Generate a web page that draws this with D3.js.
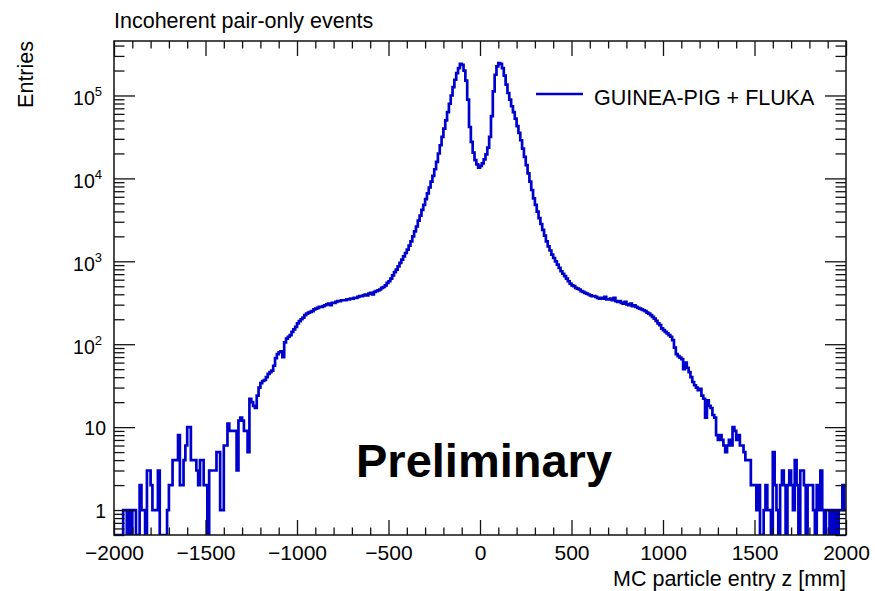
<!DOCTYPE html>
<html><head><meta charset="utf-8">
<script src="https://cdn.jsdelivr.net/npm/d3@7"></script>
<style>
body{margin:0;background:#fff}
svg{display:block}
text{font-family:"Liberation Sans",Arial,Helvetica,sans-serif;fill:#000}
</style>
</head><body>
<svg id="c" width="875" height="591"></svg>
<script>
// ---- data ----
const xRange = [-2000, 2000];
const binWidth = 10;
const counts = [
0,0,0,0,0,1,1,0,1,0,1,1,0,0,2,1,1,0,3,3,
2,1,1,1,3,0,0,0,0,1,2,2,4,4,4,8,2,2,4,6,
10,10,4,4,4,3,2,4,4,2,2,0,3,3,3,3,5,5,1,1,
6,6,11,9,9,9,9,3,12,13,12,9,9,5,22,20,18,17,24,30,
34,36,37,40,44,46,48,55,68,76,80,82,70,105,117,123,129,141,151,162,
178,190,200,209,224,234,240,245,251,263,269,275,282,282,288,295,302,309,295,316,
316,324,331,331,339,339,339,347,347,355,355,363,363,372,380,380,389,398,389,407,
417,398,427,437,447,457,479,490,513,550,575,617,676,741,794,871,955,1047,1148,1259,
1380,1549,1738,1995,2291,2630,3090,3548,4169,4786,5623,6607,7762,9120,10715,12882,15849,19953,25119,31623,
39811,50119,63096,79433,100000,125893,154882,186209,213796,239883,234423,199526,151356,89125,41687,27542,20417,16596,14791,13490,
14125,15136,16982,19498,23442,31623,56234,112202,177828,223872,245471,239883,213796,173780,134896,107152,89125,74131,63096,52481,
42658,35481,28840,22909,18197,14454,11482,9120,7244,5754,4786,3981,3311,2818,2399,2042,1738,1514,1349,1202,
1096,1000,912,832,759,708,661,617,575,537,513,501,479,468,457,437,427,417,407,398,
389,380,380,372,363,355,363,355,372,347,347,355,339,363,331,324,331,316,309,324,
302,295,309,288,295,282,275,269,263,257,251,240,234,224,214,204,191,178,170,155,
148,141,135,129,123,112,91,76,72,69,66,50,60,52,46,40,35,32,30,28,
29,24,22,13,21,18,17,14,13,8,7,8,7,6,5,6,7,6,10,9,
7,8,6,6,5,4,4,4,2,2,2,1,2,0,0,1,2,1,1,0,
5,2,1,0,2,3,2,0,2,3,2,1,4,2,0,3,3,2,0,2,
2,2,1,0,2,1,3,1,0,1,1,0,1,0,1,0,1,1,2,1
];
const xMajorTicks = [-2000,-1500,-1000,-500,0,500,1000,1500,2000];
const xMinorStep = 100;
const yDecadeTicks = [1,10,100,1000,10000,100000];
const yDomain = [0.5, 4.54e5];
const titleText = "Incoherent pair-only events";
const xTitleText = "MC particle entry z [mm]";
const yTitleText = "Entries";
const legendText = "GUINEA-PIG + FLUKA";
const watermarkText = "Preliminary";

// ---- layout ----
const m = {l:114, r:846, t:41, b:535};
const lineColor = "#0000cc";
const svg = d3.select("#c");
const x = d3.scaleLinear().domain(xRange).range([m.l, m.r]);
const y = d3.scaleLog().domain(yDomain).range([m.b, m.t]);

// minor tick values
const xMinor = d3.range(xRange[0], xRange[1] + 1, xMinorStep).filter(v => !xMajorTicks.includes(v));
const yMinor = [];
for (let e = -1; e <= 5; e++) for (let k = 2; k <= 9; k++) {
  const v = k * Math.pow(10, e);
  if (v >= yDomain[0] && v <= yDomain[1]) yMinor.push(v);
}

svg.append("defs").append("clipPath").attr("id","clip")
  .append("rect").attr("x", m.l).attr("y", m.t).attr("width", m.r - m.l).attr("height", m.b - m.t);

// histogram
const pts = counts.map((c, i) => [xRange[0] + i * binWidth, c]);
pts.push([xRange[1], counts[counts.length - 1]]);
const line = d3.line()
  .x(d => x(d[0]))
  .y(d => y(Math.max(d[1], yDomain[0])))
  .curve(d3.curveStepAfter);
svg.append("path").attr("clip-path","url(#clip)")
  .attr("d", line(pts)).attr("fill","none")
  .attr("stroke", lineColor).attr("stroke-width", 2.7).attr("stroke-linejoin","miter");

// axes
const axisStyle = g => {
  g.select(".domain").remove();
  g.selectAll(".tick line").attr("stroke","#111").attr("stroke-width",1.3);
};
const fs = 21;
// bottom
svg.append("g").attr("transform",`translate(0,${m.b})`)
  .call(d3.axisBottom(x).tickValues(xMinor).tickSize(-7.5).tickFormat(""))
  .call(axisStyle);
const xb = svg.append("g").attr("transform",`translate(0,${m.b})`)
  .call(d3.axisBottom(x).tickValues(xMajorTicks).tickSize(-15).tickPadding(10)
    .tickFormat(d => d < 0 ? "\u2212" + Math.abs(d) : String(d)))
  .call(axisStyle);
xb.selectAll("text").attr("font-size", fs).attr("fill","#000")
  .attr("font-family",'"Liberation Sans",Arial,sans-serif');
// top
svg.append("g").attr("transform",`translate(0,${m.t})`)
  .call(d3.axisTop(x).tickValues(xMinor).tickSize(-7.5).tickFormat(""))
  .call(axisStyle);
svg.append("g").attr("transform",`translate(0,${m.t})`)
  .call(d3.axisTop(x).tickValues(xMajorTicks).tickSize(-15).tickFormat(""))
  .call(axisStyle);
// left
svg.append("g").attr("transform",`translate(${m.l},0)`)
  .call(d3.axisLeft(y).tickValues(yMinor).tickSize(-10.5).tickFormat(""))
  .call(axisStyle);
const yl = svg.append("g").attr("transform",`translate(${m.l},0)`)
  .call(d3.axisLeft(y).tickValues(yDecadeTicks).tickSize(-21).tickFormat(""))
  .call(axisStyle);
yl.selectAll(".tick").each(function(d){
  const g = d3.select(this);
  const e = Math.round(Math.log10(d));
  const t = g.append("text").attr("text-anchor","end").attr("fill","#000")
    .attr("font-family",'"Liberation Sans",Arial,sans-serif');
  if (e < 2) {
    t.attr("x", -8).attr("y", 7).attr("font-size", 19.5).text(String(d));
  } else {
    t.attr("x", -12).attr("y", 9).attr("font-size", 19.5);
    t.append("tspan").text("10");
    t.append("tspan").attr("font-size", 13).attr("dy", -9).text(String(e));
  }
});
// right
svg.append("g").attr("transform",`translate(${m.r},0)`)
  .call(d3.axisRight(y).tickValues(yMinor).tickSize(-10.5).tickFormat(""))
  .call(axisStyle);
svg.append("g").attr("transform",`translate(${m.r},0)`)
  .call(d3.axisRight(y).tickValues(yDecadeTicks).tickSize(-21).tickFormat(""))
  .call(axisStyle);

// frame
svg.append("rect").attr("x", m.l).attr("y", m.t).attr("width", m.r - m.l).attr("height", m.b - m.t)
  .attr("fill","none").attr("stroke","#111").attr("stroke-width",1.5);

// texts
svg.append("text").attr("x", 114).attr("y", 28).attr("font-size", 21.5).text(titleText);
svg.append("text").attr("x", m.r).attr("y", 586).attr("text-anchor","end").attr("font-size", 21.5).text(xTitleText);
svg.append("text").attr("transform",`translate(33,${m.t}) rotate(-90)`).attr("text-anchor","end")
  .attr("font-size", 21.5).text(yTitleText);

// legend
svg.append("line").attr("x1", 536).attr("x2", 583).attr("y1", 94).attr("y2", 94)
  .attr("stroke", lineColor).attr("stroke-width", 2.7);
svg.append("text").attr("x", 594).attr("y", 105).attr("font-size", 21.5).text(legendText);

// watermark
svg.append("text").attr("x", 356).attr("y", 477).attr("font-size", 47).attr("font-weight","bold").text(watermarkText);
</script>
</body></html>
